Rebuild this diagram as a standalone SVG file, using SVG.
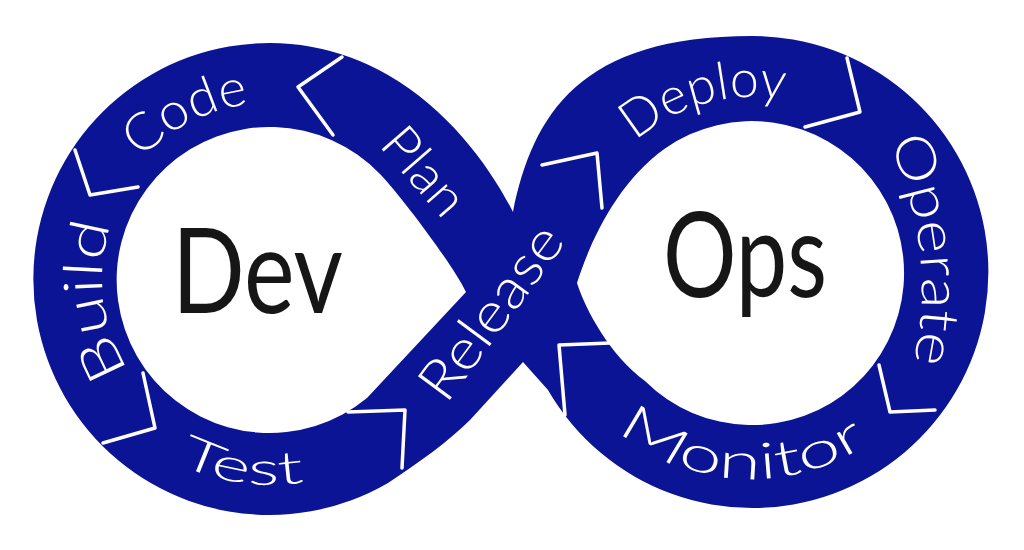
<svg xmlns="http://www.w3.org/2000/svg" width="1024" height="550" viewBox="0 0 1024 550">
<style>
.band{fill:#0b1494}
.hole{fill:#ffffff}
.chev{fill:none;stroke:#ffffff;stroke-width:3.5;stroke-linejoin:round;stroke-linecap:round}
.lbl{fill:#ffffff;font-family:Lato,'Open Sans','DejaVu Sans',sans-serif;font-weight:300}
.big{fill:#161616;font-family:Lato,'Open Sans','DejaVu Sans',sans-serif;font-weight:400;font-size:118px}
</style>
<defs>
<path id="pCode" d="M270,455 A176,176 0 1 1 270,103 A176,176 0 1 1 270,455"/>
<path id="pBuild" d="M270,447 A168,168 0 1 1 270,111 A168,168 0 1 1 270,447"/>
<path id="pTest" d="M64,279 A206,206 0 0 0 476,279"/>
<path id="pDeploy" d="M752,447 A175,175 0 1 1 752,97 A175,175 0 1 1 752,447"/>
<path id="pOperate" d="M888,140 Q940,255 912,368"/>
<path id="pMonitor" d="M545,272 A207,207 0 0 0 959,272"/>
</defs>
<rect width="1024" height="550" fill="#ffffff"/>
<g id="loop">
<path class="band" d="M513,212 C490,167 449,110 388,75 A236,236 0 1 0 388,483 C420,462 450,440 470,420 L523,362 L548,390 A236,236 0 1 0 752,36 C580,36 533,114 513,212 Z"/>
<path class="hole" d="M380,174 C401,196 453,265 466,292 L367,398 A153,153 0 1 1 380,174 Z"/>
<path class="hole" d="M665,148.5 C616,183 589,245 577,283 C586,311 610,355 645,381 A152,152 0 1 0 665,148.5 Z"/>
</g>
<g id="connectors">
<polyline class="chev" points="75,150 90,195 138,187"/>
<polyline class="chev" points="342,57 298,87 333,135"/>
<polyline class="chev" points="348,412 405,410 402,468"/>
<polyline class="chev" points="143,373 155,428 103,443"/>
<polyline class="chev" points="542,165 597,153 602,208"/>
<polyline class="chev" points="847,58 860,112 805,127"/>
<polyline class="chev" points="879,365 890,412 935,410"/>
<polyline class="chev" points="610,343 559,345 565,415"/>
</g>
<g id="node-dev"><text class="big" x="172" y="313" textLength="171" lengthAdjust="spacingAndGlyphs">Dev</text></g>
<g id="node-ops"><text class="big" x="663" y="297" textLength="164" lengthAdjust="spacingAndGlyphs">Ops</text></g>
<g id="node-code"><text class="lbl" font-size="52" text-anchor="middle"><textPath href="#pCode" startOffset="470" textLength="123" lengthAdjust="spacingAndGlyphs">Code</textPath></text></g>
<g id="node-build"><text class="lbl" font-size="54" text-anchor="middle"><textPath href="#pBuild" startOffset="243" textLength="152" lengthAdjust="spacingAndGlyphs">Build</textPath></text></g>
<g id="node-test"><text class="lbl" font-size="46" text-anchor="middle"><textPath href="#pTest" startOffset="293" textLength="130" lengthAdjust="spacingAndGlyphs">Test</textPath></text></g>
<g id="node-plan"><text class="lbl" font-size="52" transform="translate(378,145) rotate(49)" textLength="100" lengthAdjust="spacingAndGlyphs">Plan</text></g>
<g id="node-release"><text class="lbl" font-size="56" transform="translate(446,405) rotate(-53.5)" textLength="203" lengthAdjust="spacingAndGlyphs">Release</text></g>
<g id="node-deploy"><text class="lbl" font-size="52" text-anchor="middle"><textPath href="#pDeploy" startOffset="502" textLength="160" lengthAdjust="spacingAndGlyphs">Deploy</textPath></text></g>
<g id="node-operate"><text class="lbl" font-size="54"><textPath href="#pOperate" startOffset="2" textLength="226" lengthAdjust="spacingAndGlyphs">Operate</textPath></text></g>
<g id="node-monitor"><text class="lbl" font-size="50" text-anchor="middle"><textPath href="#pMonitor" startOffset="313" textLength="268" lengthAdjust="spacingAndGlyphs">Monitor</textPath></text></g>
</svg>
